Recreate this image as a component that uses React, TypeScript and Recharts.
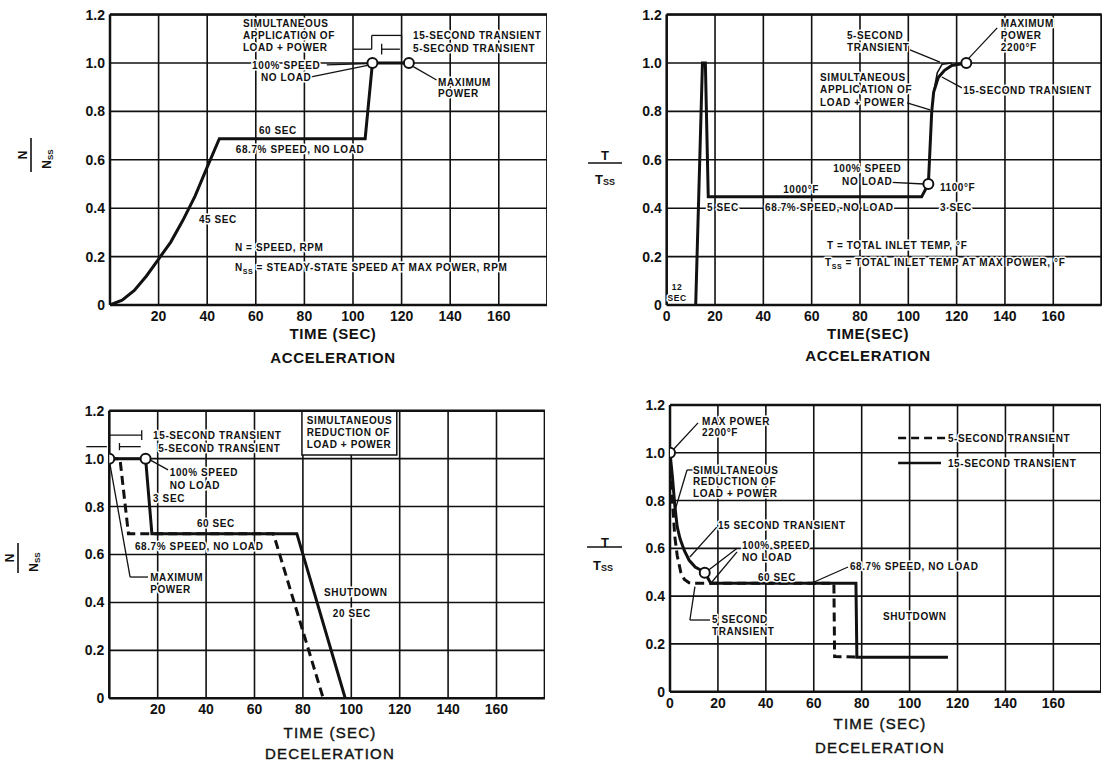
import React from 'react'
import {
  ComposedChart,
  Line,
  Scatter,
  XAxis,
  YAxis,
  CartesianGrid,
  ReferenceLine,
  ReferenceDot,
  ReferenceArea,
} from 'recharts'

const INK = '#111'
const FONT = '"Liberation Sans", Arial, sans-serif'

// axis ticks
const xTicks = [0, 20, 40, 60, 80, 100, 120, 140, 160, 180]
const yTicks = [0, 0.2, 0.4, 0.6, 0.8, 1.0, 1.2]

// acceleration - speed N/Nss
const accSpeedT = [0, 5, 10, 15, 20, 25, 30, 35, 40, 45, 105, 108, 123]
const accSpeedN = [0, 0.02, 0.06, 0.12, 0.19, 0.26, 0.35, 0.45, 0.57, 0.687, 0.687, 1.0, 1.0]
const accSpeedMarkT = [108, 123]
const accSpeedMarkN = [1.0, 1.0]

// acceleration - temperature T/Tss
const accTempT = [12, 14.8, 16, 17.2, 105.5, 108.3, 109, 109.7, 110.5, 112.4, 115, 118, 124]
const accTempR = [0, 1.0, 1.0, 0.447, 0.447, 0.5, 0.65, 0.8, 0.88, 0.94, 0.97, 0.99, 1.0]
const accTemp5T = [110.5, 112, 114, 118]
const accTemp5R = [0.88, 0.96, 0.995, 1.0]
const accTempMarkT = [108.3, 124]
const accTempMarkR = [0.5, 1.0]

// deceleration - speed
const decSpeed15T = [0, 15, 17.6, 77.5, 97.5]
const decSpeed15N = [1.0, 1.0, 0.687, 0.687, 0]
const decSpeed5T = [0, 4.4, 7.9, 67.8, 88.4]
const decSpeed5N = [1.0, 1.0, 0.687, 0.687, 0]
const decSpeedMarkT = [0, 15]
const decSpeedMarkN = [1.0, 1.0]

// deceleration - temperature
const decTemp15T = [0, 1, 2, 3, 4.2, 6, 8, 10.5, 14.5, 17, 77.6, 78, 116]
const decTemp15R = [1.0, 0.9, 0.78, 0.69, 0.64, 0.59, 0.55, 0.522, 0.5, 0.454, 0.454, 0.144, 0.144]
const decTemp5T = [0, 1, 2, 3, 4.5, 6, 8, 10, 68.4, 68.7, 78]
const decTemp5R = [1.0, 0.8, 0.65, 0.57, 0.5, 0.47, 0.456, 0.454, 0.454, 0.147, 0.145]
const decTempMarkT = [0, 14.5]
const decTempMarkR = [1.0, 0.498]

const rows = (t: number[], v: number[]) => t.map((x, i) => ({ x, y: v[i] }))

type Series = { t: number[]; v: number[]; dashed?: boolean; w?: number }
type Note = {
  x: number
  y: number
  lines: React.ReactNode[]
  anchor?: 'start' | 'middle' | 'end'
  lh?: number
  size?: number
}
type Seg = [number, number, number, number, boolean?]

const Ring = (props: any) => (
  <circle cx={props.cx} cy={props.cy} r={5} fill="#fff" stroke={INK} strokeWidth={2} />
)

const noteLabel = (n: Note) => (props: any) => {
  const vb = props.viewBox || {}
  const x = (vb.x ?? 0) + (vb.width ?? 0) / 2
  const y = (vb.y ?? 0) + (vb.height ?? 0) / 2
  const lh = n.lh ?? 12
  return (
    <text
      x={x}
      y={y}
      textAnchor={n.anchor ?? 'start'}
      fontFamily={FONT}
      fontSize={n.size ?? 10}
      fontWeight={700}
      letterSpacing={0.6}
      fill={INK}
      stroke="#fff"
      strokeWidth={3}
      strokeLinejoin="round"
      paintOrder="stroke"
    >
      {n.lines.map((ln, i) => (
        <tspan key={i} x={x} dy={i === 0 ? '0.36em' : lh}>
          {ln}
        </tspan>
      ))}
    </text>
  )
}

const sub = (lead: string, rest: string) => (
  <>
    {lead}
    <tspan fontSize={7} dy={3}>SS</tspan>
    <tspan dy={-3}>{rest}</tspan>
  </>
)

interface PanelProps {
  left: number
  top: number
  yAxisW: number
  plotW: number
  marginTop: number
  plotH: number
  xAxisH: number
  zeroTick: boolean
  series: Series[]
  marks: { t: number[]; v: number[] }
  notes: Note[]
  leaders: Seg[]
  box?: [number, number, number, number]
  overlay: React.ReactNode
}

function Panel(p: PanelProps) {
  const W = p.yAxisW + p.plotW
  const H = p.marginTop + p.plotH + p.xAxisH
  const tick = { fill: INK, fontSize: 14, fontWeight: 700, fontFamily: FONT }
  return (
    <div style={{ position: 'absolute', left: p.left, top: p.top, width: W, height: H }}>
      <ComposedChart width={W} height={H} margin={{ top: p.marginTop, right: 0, bottom: 0, left: 0 }}>
        <CartesianGrid stroke={INK} strokeWidth={1.6} />
        <XAxis
          type="number"
          dataKey="x"
          domain={[0, 180]}
          ticks={xTicks}
          interval={0}
          allowDataOverflow
          height={p.xAxisH}
          tickFormatter={(v: number) => (v === 180 || (v === 0 && !p.zeroTick) ? '' : String(v))}
          tick={tick}
          tickLine={false}
          tickSize={0}
          tickMargin={6}
          axisLine={{ stroke: INK, strokeWidth: 2.5 }}
        />
        <YAxis
          type="number"
          dataKey="y"
          domain={[0, 1.2]}
          ticks={yTicks}
          interval={0}
          allowDataOverflow
          width={p.yAxisW}
          tickFormatter={(v: number) => (v === 0 ? '0' : v.toFixed(1))}
          tick={tick}
          tickLine={false}
          tickSize={0}
          tickMargin={5}
          axisLine={{ stroke: INK, strokeWidth: 2.5 }}
        />
        <ReferenceLine x={180} stroke={INK} strokeWidth={2.5} />
        <ReferenceLine y={1.2} stroke={INK} strokeWidth={2.5} />
        {p.box && (
          <ReferenceArea
            x1={p.box[0]}
            x2={p.box[1]}
            y1={p.box[2]}
            y2={p.box[3]}
            fill="#fff"
            fillOpacity={1}
            stroke={INK}
            strokeWidth={1.5}
            ifOverflow="visible"
          />
        )}
        {p.leaders.map((s, i) => (
          <ReferenceLine
            key={'l' + i}
            segment={[
              { x: s[0], y: s[1] },
              { x: s[2], y: s[3] },
            ]}
            stroke={INK}
            strokeWidth={s[4] === undefined ? 1.3 : 2.5}
            strokeDasharray={s[4] ? '8 5' : undefined}
            ifOverflow="visible"
          />
        ))}
        {p.series.map((s, i) => (
          <Line
            key={'s' + i}
            data={rows(s.t, s.v)}
            dataKey="y"
            type="linear"
            stroke={INK}
            strokeWidth={s.w ?? 3}
            strokeDasharray={s.dashed ? '9 5' : undefined}
            dot={false}
            activeDot={false}
            isAnimationActive={false}
          />
        ))}
        <Scatter data={rows(p.marks.t, p.marks.v)} dataKey="y" shape={Ring} isAnimationActive={false} />
        {p.notes.map((n, i) => (
          <ReferenceDot
            key={'n' + i}
            x={n.x}
            y={n.y}
            r={0}
            fill="none"
            stroke="none"
            ifOverflow="visible"
            label={noteLabel(n)}
          />
        ))}
      </ComposedChart>
      <svg
        width={W}
        height={H}
        style={{ position: 'absolute', left: 0, top: 0, pointerEvents: 'none', overflow: 'visible' }}
      >
        <g fontFamily={FONT} fontWeight={700} fill={INK}>
          {p.overlay}
        </g>
      </svg>
    </div>
  )
}

const Title = ({ x, y, text, light }: { x: number; y: number; text: string; light?: boolean }) => (
  <text
    x={x}
    y={y}
    textAnchor="middle"
    dominantBaseline="central"
    fontSize={15}
    fontWeight={light ? 400 : 700}
    letterSpacing={light ? 1.2 : 0.6}
    stroke={light ? INK : 'none'}
    strokeWidth={light ? 0.4 : 0}
  >
    {text}
  </text>
)

// fraction N / N_SS turned a quarter turn counter-clockwise, centred on the bar
const RotFrac = ({ cx, cy, len }: { cx: number; cy: number; len: number }) => (
  <g transform={`translate(${cx} ${cy}) rotate(-90)`}>
    <text x={0} y={-8} textAnchor="middle" dominantBaseline="central" fontSize={12}>
      N
    </text>
    <line x1={-len / 2} y1={0} x2={len / 2} y2={0} stroke={INK} strokeWidth={1.6} />
    <text x={-4} y={16} textAnchor="middle" dominantBaseline="central" fontSize={12}>
      N<tspan fontSize={8} dy={3}>SS</tspan>
    </text>
  </g>
)

const UpFrac = ({ tx, ty, bx1, bx2, by, dx, dy }: any) => (
  <>
    <text x={tx} y={ty} textAnchor="middle" dominantBaseline="central" fontSize={13}>
      T
    </text>
    <line x1={bx1} y1={by} x2={bx2} y2={by} stroke={INK} strokeWidth={1.6} />
    <text x={dx} y={dy} textAnchor="middle" dominantBaseline="central" fontSize={13}>
      T<tspan fontSize={9} dy={3}>SS</tspan>
    </text>
  </>
)

export default function App() {
  return (
    <div
      style={{
        position: 'absolute',
        left: 0,
        top: 0,
        width: 1105,
        height: 763,
        overflow: 'hidden',
        background: '#fff',
      }}
    >
      <Panel
        left={0}
        top={0}
        yAxisW={110}
        plotW={437.4}
        marginTop={14.6}
        plotH={290.4}
        xAxisH={65}
        zeroTick={false}
        series={[{ t: accSpeedT, v: accSpeedN }]}
        marks={{ t: accSpeedMarkT, v: accSpeedMarkN }}
        notes={[
          { x: 54.7, y: 1.165, lines: ['SIMULTANEOUS', 'APPLICATION OF', 'LOAD + POWER'] },
          { x: 72.5, y: 0.992, anchor: 'middle', lines: ['100% SPEED', 'NO LOAD'] },
          { x: 135, y: 0.921, lines: ['MAXIMUM', 'POWER'], lh: 11 },
          { x: 124.7, y: 1.116, lines: ['15-SECOND TRANSIENT', '5-SECOND TRANSIENT'], lh: 13 },
          { x: 69.1, y: 0.723, anchor: 'middle', lines: ['60 SEC'] },
          { x: 78.2, y: 0.645, anchor: 'middle', lines: ['68.7% SPEED, NO LOAD'] },
          { x: 44.4, y: 0.355, anchor: 'middle', lines: ['45 SEC'] },
          { x: 51.4, y: 0.24, lines: ['N = SPEED, RPM'] },
          { x: 51.4, y: 0.157, lines: [sub('N', ' = STEADY-STATE SPEED AT MAX POWER, RPM')] },
        ]}
        leaders={[
          [89.2, 0.992, 106, 0.998],
          [82.3, 0.942, 106, 0.99],
          [124.8, 0.985, 134.4, 0.93],
          [100, 1.057, 107.7, 1.057],
          [107.7, 1.057, 107.7, 1.114],
          [107.7, 1.114, 120, 1.114],
          [120, 1.114, 120, 1.02],
          [111.8, 1.057, 119.3, 1.057],
          [111.8, 1.035, 111.8, 1.08],
        ]}
        overlay={
          <>
            <RotFrac cx={31} cy={155} len={34} />
            <Title x={333} y={333} text="TIME (SEC)" />
            <Title x={333} y={357} text="ACCELERATION" />
          </>
        }
      />
      <Panel
        left={570}
        top={0}
        yAxisW={96.7}
        plotW={434.9}
        marginTop={14.6}
        plotH={290.4}
        xAxisH={65}
        zeroTick={true}
        series={[
          { t: accTempT, v: accTempR },
          { t: accTemp5T, v: accTemp5R, w: 1.6 },
        ]}
        marks={{ t: accTempMarkT, v: accTempMarkR }}
        notes={[
          { x: 74.6, y: 1.116, lines: ['5-SECOND', 'TRANSIENT'] },
          { x: 138.3, y: 1.165, lines: ['MAXIMUM', 'POWER', '2200°F'] },
          { x: 63.5, y: 0.942, lines: ['SIMULTANEOUS', 'APPLICATION OF', 'LOAD + POWER'], lh: 12.5 },
          { x: 122.7, y: 0.888, lines: ['15-SECOND TRANSIENT'] },
          { x: 83, y: 0.566, anchor: 'middle', lines: ['100% SPEED', 'NO LOAD'], lh: 13 },
          { x: 113.1, y: 0.488, lines: ['1100°F'] },
          { x: 48.2, y: 0.479, lines: ['1000°F'] },
          { x: 16.7, y: 0.405, lines: ['5 SEC'] },
          { x: 40.7, y: 0.405, lines: ['68.7% SPEED, NO LOAD'] },
          { x: 113.1, y: 0.405, lines: ['3 SEC'] },
          { x: 4.3, y: 0.074, anchor: 'middle', lines: ['12', 'SEC'], lh: 11, size: 8.5 },
          { x: 66.3, y: 0.248, lines: ['T = TOTAL INLET TEMP, °F'] },
          { x: 65.5, y: 0.174, lines: [sub('T', ' = TOTAL INLET TEMP AT MAX POWER, °F')] },
        ]}
        leaders={[
          [100.7, 1.054, 113.1, 1.004],
          [136.8, 1.145, 124.3, 1.012],
          [99.5, 0.835, 109, 0.806],
          [122.2, 0.897, 113.9, 0.942],
          [91.2, 0.508, 106.5, 0.5],
        ]}
        overlay={
          <>
            <UpFrac tx={35} ty={155} bx1={18} bx2={52} by={163} dx={35} dy={179} />
            <Title x={298} y={333} text="TIME(SEC)" />
            <Title x={298} y={355} text="ACCELERATION" />
          </>
        }
      />
      <Panel
        left={0}
        top={395}
        yAxisW={109.3}
        plotW={435.6}
        marginTop={15.7}
        plotH={287.6}
        xAxisH={65}
        zeroTick={false}
        series={[
          { t: decSpeed5T, v: decSpeed5N, dashed: true },
          { t: decSpeed15T, v: decSpeed15N },
        ]}
        marks={{ t: decSpeedMarkT, v: decSpeedMarkN }}
        box={[79.6, 118.8, 1.015, 1.2]}
        notes={[
          { x: 18.1, y: 1.098, lines: ['15-SECOND TRANSIENT'] },
          { x: 20.2, y: 1.042, lines: ['5-SECOND TRANSIENT'] },
          { x: 81.6, y: 1.161, lines: ['SIMULTANEOUS', 'REDUCTION OF', 'LOAD + POWER'] },
          { x: 25, y: 0.944, lines: ['100% SPEED', 'NO LOAD'], lh: 13 },
          { x: 18.1, y: 0.832, lines: ['3 SEC'] },
          { x: 36.2, y: 0.731, lines: ['60 SEC'] },
          { x: 10.6, y: 0.635, lines: ['68.7% SPEED, NO LOAD'] },
          { x: 16.9, y: 0.506, lines: ['MAXIMUM', 'POWER'] },
          { x: 101.9, y: 0.443, anchor: 'middle', lines: ['SHUTDOWN'] },
          { x: 100.2, y: 0.356, anchor: 'middle', lines: ['20 SEC'] },
        ]}
        leaders={[
          [0, 1.098, 13.4, 1.098],
          [13.4, 1.078, 13.4, 1.118],
          [4.2, 1.05, 13, 1.05],
          [4.2, 1.035, 4.2, 1.065],
          [-9.5, 1.05, -1, 1.05],
          [24.3, 0.953, 16.8, 0.995],
          [16, 0.506, 8.6, 0.506],
          [8.6, 0.506, 0.3, 0.975],
        ]}
        overlay={
          <>
            <RotFrac cx={18} cy={163} len={30} />
            <Title x={330} y={337} text="TIME (SEC)" light />
            <Title x={330} y={358} text="DECELERATION" light />
          </>
        }
      />
      <Panel
        left={570}
        top={395}
        yAxisW={100}
        plotW={431.3}
        marginTop={10}
        plotH={286.7}
        xAxisH={65}
        zeroTick={true}
        series={[
          { t: decTemp5T, v: decTemp5R, dashed: true },
          { t: decTemp15T, v: decTemp15R },
        ]}
        marks={{ t: decTempMarkT, v: decTempMarkR }}
        notes={[
          { x: 13.4, y: 1.133, lines: ['MAX POWER', '2200°F'], lh: 11 },
          { x: 9.6, y: 0.928, lines: ['SIMULTANEOUS', 'REDUCTION OF', 'LOAD + POWER'], lh: 11.5 },
          { x: 20, y: 0.698, lines: ['15 SECOND TRANSIENT'] },
          { x: 30, y: 0.614, lines: ['100% SPEED', 'NO LOAD'] },
          { x: 36.7, y: 0.48, lines: ['60 SEC'] },
          { x: 75.1, y: 0.526, lines: ['68.7% SPEED, NO LOAD'] },
          { x: 17.5, y: 0.304, lines: ['5 SECOND', 'TRANSIENT'] },
          { x: 88.9, y: 0.317, lines: ['SHUTDOWN'] },
          { x: 116, y: 1.062, lines: ['5-SECOND TRANSIENT'] },
          { x: 116, y: 0.957, lines: ['15-SECOND TRANSIENT'] },
        ]}
        leaders={[
          [11.7, 1.125, 1.5, 1.015],
          [9.6, 0.928, 7.1, 0.928],
          [7.1, 0.928, 1.25, 0.731],
          [19.5, 0.689, 8.3, 0.564],
          [28, 0.6, 16.3, 0.51],
          [28, 0.585, 17.4, 0.458],
          [74.3, 0.522, 59.7, 0.457],
          [16.7, 0.3, 8.3, 0.3],
          [8.3, 0.3, 10.4, 0.44],
          [95.2, 1.062, 114.8, 1.062, true],
          [95.2, 0.957, 113.1, 0.957, false],
        ]}
        overlay={
          <>
            <UpFrac tx={35} ty={147} bx1={17} bx2={52} by={152} dx={33} dy={170} />
            <Title x={310} y={328} text="TIME (SEC)" light />
            <Title x={310} y={352} text="DECELERATION" light />
          </>
        }
      />
    </div>
  )
}
